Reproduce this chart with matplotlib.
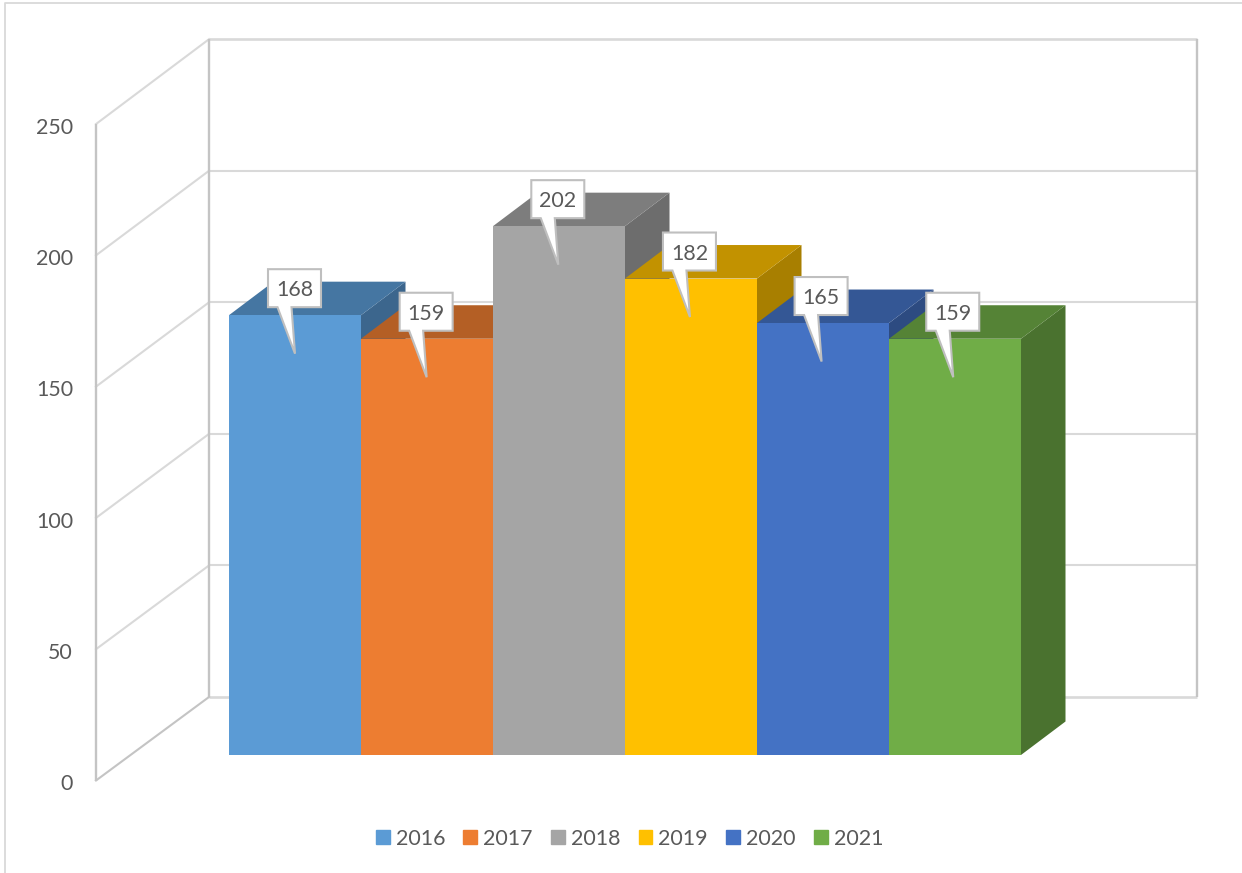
import matplotlib
matplotlib.use("Agg")
from matplotlib import pyplot as plt
from matplotlib.lines import Line2D
from matplotlib.patches import Patch, Polygon

plt.rcParams['font.family'] = ['Lato', 'DejaVu Sans']

years = ['2016', '2017', '2018', '2019', '2020', '2021']
values = [168, 159, 202, 182, 165, 159]
colors = ['#5B9BD5', '#ED7D31', '#A5A5A5', '#FFC000', '#4472C4', '#70AD47']
y_ticks = [0, 50, 100, 150, 200, 250]

W, H = 1242, 873
# one category = 132 px, one value unit = 2.618 px
PX_X = 1 / 132
PX_Y = 1 / 2.618
BASE_LEFT, BASE_Y = 229, 755

# depth of a bar, as a shift in data units
BAR_DX = 44.5 * PX_X
BAR_DY = 33.5 * PX_Y
# wall corners, as shifts from the bar baseline
WALL_L = (209 - BASE_LEFT) * PX_X
WALL_R = (1197 - BASE_LEFT) * PX_X
WALL_Y = (BASE_Y - 697) * PX_Y
FRONT_L = (96 - BASE_LEFT) * PX_X
FRONT_Y = (BASE_Y - 780.5) * PX_Y
BACK_SCALE = 1.005
FRONT_SCALE = 1.003

GRID = '#D9D9D9'
WALL = '#C4C4C4'
TEXT = '#595959'
FONT = 15.4


def shade(color, f):
    rgb = matplotlib.colors.to_rgb(color)
    return tuple(c * f for c in rgb)


fig = plt.figure(figsize=(W / 100, H / 100), dpi=100)
ax = fig.add_axes([0, 0, 1, 1])
ax.set_xlim(-BASE_LEFT * PX_X, (W - BASE_LEFT) * PX_X)
ax.set_ylim((BASE_Y - H) * PX_Y, BASE_Y * PX_Y)
ax.axis('off')

# chart frame
fig.add_artist(Line2D([5 / W, 5 / W, 1], [0, 1 - 3 / H, 1 - 3 / H], color=GRID, lw=1.3))

# walls and gridlines
for t in y_ticks:
    yb = WALL_Y + t * BACK_SCALE
    yf = FRONT_Y + t * FRONT_SCALE
    lw = 1.9 if t == 0 or t == 250 else 1.5
    ax.plot([WALL_L, WALL_R], [yb, yb], color=GRID, lw=lw, zorder=1, solid_capstyle='butt')
    ax.plot([FRONT_L, WALL_L], [yf, yb], color=GRID if t else WALL, lw=1.5, zorder=1)
    ax.text(FRONT_L - 23 * PX_X, yf - 3.7 * PX_Y, str(t), ha='right', va='center',
            fontsize=FONT, color=TEXT)
top_b = WALL_Y + 250 * BACK_SCALE
top_f = FRONT_Y + 250 * FRONT_SCALE
ax.plot([WALL_L, WALL_L], [WALL_Y, top_b], color=WALL, lw=1.7, zorder=1.5, solid_capstyle='butt')
ax.plot([WALL_R, WALL_R], [WALL_Y, top_b], color=WALL, lw=1.7, zorder=1.5, solid_capstyle='butt')
ax.plot([FRONT_L, FRONT_L], [FRONT_Y, top_f], color=WALL, lw=1.7, zorder=1.5, solid_capstyle='butt')

# bars, left to right so each one covers the side of the previous
for i, (v, c) in enumerate(zip(values, colors)):
    z = 2 + i
    side = [(i + 1, 0), (i + 1 + BAR_DX, BAR_DY), (i + 1 + BAR_DX, v + BAR_DY), (i + 1, v)]
    top = [(i, v), (i + BAR_DX, v + BAR_DY), (i + 1 + BAR_DX, v + BAR_DY), (i + 1, v)]
    ax.add_patch(Polygon(side, closed=True, fc=shade(c, 0.66), ec='none', zorder=z))
    ax.add_patch(Polygon(top, closed=True, fc=shade(c, 0.76), ec='none', zorder=z))
    ax.bar(i + 0.5, v, width=1, color=c, zorder=z + 0.5)

# callouts with the values
for i, v in enumerate(values):
    cx = i + 0.5 - (0.5 + 0.35 * i) * PX_X
    cy = v + 27 * PX_Y
    bw = 26.5 * PX_X
    bh = 19 * PX_Y
    tip = cx + 0.5 * PX_X
    shape = [(cx - bw, cy - bh), (cx - 17 * PX_X, cy - bh), (tip, v - 38.5 * PX_Y),
             (cx - 3 * PX_X, cy - bh), (cx + bw, cy - bh), (cx + bw, cy + bh),
             (cx - bw, cy + bh)]
    ax.add_patch(Polygon(shape, closed=True, fc='white', ec='#BFBFBF', lw=1.5, zorder=20))
    ax.text(cx, cy - 2 * PX_Y, str(v), ha='center', va='center', fontsize=FONT,
            color=TEXT, zorder=21)

handles = [Patch(color=c) for c in colors]
ax.legend(handles, years, ncol=6, frameon=False, loc='center',
          bbox_to_anchor=(629.5 / W, 1 - 838.7 / H), fontsize=FONT, labelcolor=TEXT,
          handlelength=0.64, handleheight=0.64, handletextpad=0.28, columnspacing=0.86)

fig.savefig('out.png', dpi=100)
